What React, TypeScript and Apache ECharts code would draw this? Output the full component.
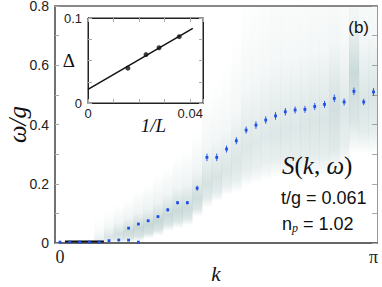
import React, { useEffect, useRef } from 'react';
import * as echarts from 'echarts';

// k = n * PI / 32  (L = 64)
const kDivisions = 32;
const upperN = [0, 1, 2, 3, 4, 5, 6, 7, 8, 9, 10, 11, 12, 13, 14, 15, 16, 17, 18, 19, 20, 21, 22, 23, 24, 25, 26, 27, 28, 29, 30, 31, 32];
const upperOmega = [0.003, 0.003, 0.003, 0.003, 0.003, 0.008, 0.010, 0.050, 0.064, 0.075, 0.089, 0.112, 0.136, 0.136, 0.185, 0.289, 0.289, 0.317, 0.345, 0.381, 0.398, 0.415, 0.429, 0.443, 0.449, 0.451, 0.461, 0.468, 0.488, 0.476, 0.512, 0.476, 0.510];
const upperErr = [0.001, 0.001, 0.001, 0.001, 0.001, 0.001, 0.001, 0.002, 0.002, 0.002, 0.002, 0.004, 0.004, 0.004, 0.007, 0.011, 0.011, 0.010, 0.010, 0.010, 0.011, 0.011, 0.011, 0.011, 0.010, 0.010, 0.010, 0.010, 0.011, 0.010, 0.011, 0.009, 0.011];
const lowerN = [7, 8];
const lowerOmega = [0.010, 0.003];
const lowerErr = [0.001, 0.001];

// S(k, w) intensity columns
const heatN = [0, 1, 2, 3, 4, 5, 6, 7, 8, 9, 10, 11, 12, 13, 14, 15, 16, 17, 18, 19, 20, 21, 22, 23, 24, 25, 26, 27, 28, 29, 30, 31, 32];
const heatLow = [0, 0, 0, 0, 0, 0, 0, 0, 0.005, 0.015, 0.025, 0.04, 0.05, 0.06, 0.09, 0.12, 0.14, 0.16, 0.17, 0.19, 0.2, 0.21, 0.22, 0.22, 0.22, 0.22, 0.22, 0.22, 0.23, 0.25, 0.3, 0.3, 0.3];
const heatPeak = [0.01, 0.01, 0.01, 0.01, 0.01, 0.02, 0.03, 0.04, 0.05, 0.06, 0.075, 0.095, 0.11, 0.12, 0.15, 0.2, 0.22, 0.25, 0.28, 0.32, 0.34, 0.36, 0.37, 0.38, 0.39, 0.4, 0.41, 0.42, 0.45, 0.45, 0.58, 0.48, 0.5];
const heatHigh = [0.05, 0.05, 0.05, 0.05, 0.09, 0.11, 0.13, 0.15, 0.18, 0.2, 0.23, 0.26, 0.3, 0.32, 0.38, 0.5, 0.55, 0.6, 0.7, 0.85, 0.9, 0.95, 1.0, 1.0, 1.0, 1.0, 1.0, 1.0, 1.0, 1.0, 1.0, 1.0, 1.0];
const heatAlpha = [0, 0, 0, 0, 0.12, 0.2, 0.24, 0.28, 0.3, 0.3, 0.3, 0.28, 0.28, 0.27, 0.26, 0.22, 0.21, 0.19, 0.19, 0.18, 0.17, 0.17, 0.18, 0.18, 0.18, 0.19, 0.2, 0.2, 0.24, 0.18, 0.28, 0.2, 0.2];

// dark ground-state strip
const groundK = [0.05, 0.44];
const groundOmega = [0.005, 0.005];

// inset: gap vs 1/L
const invL = [0.0156, 0.0227, 0.0278, 0.0357];
const gapValues = [0.041, 0.057, 0.065, 0.078];
const fitInvL = [0, 0.041];
const fitGap = [0.016, 0.0878];

const yMainLabels = [0, 0.2, 0.4, 0.6, 0.8];

const kOf = (n: number) => (n * Math.PI) / kDivisions;

export default function App() {
  const ref = useRef<HTMLDivElement>(null);
  useEffect(() => {
    if (!ref.current) return;
    const chart = echarts.init(ref.current, null, { renderer: 'svg' });
    const halfStep = Math.PI / kDivisions / 2;
    const base = '70,125,122';

    const heatData = heatN.map((n, i) => [kOf(n), heatLow[i], heatPeak[i], heatHigh[i], heatAlpha[i]]);
    const upperData = upperN.map((n, i) => [kOf(n), upperOmega[i], upperErr[i]]);
    const lowerData = lowerN.map((n, i) => [kOf(n), lowerOmega[i], lowerErr[i]]);

    const errRender = (params: any, api: any) => {
      const k = api.value(0);
      const w = api.value(1);
      const e = api.value(2);
      const c = api.coord([k, w]);
      const top = api.coord([k, w + e]);
      const bot = api.coord([k, w - e]);
      return {
        type: 'group',
        children: [
          { type: 'line', shape: { x1: c[0], y1: top[1] - 0.5, x2: c[0], y2: bot[1] + 0.5 }, style: { stroke: '#2a5cf0', lineWidth: 1 } },
          { type: 'rect', shape: { x: c[0] - 1.4, y: c[1] - 1.4, width: 2.8, height: 2.8 }, style: { fill: '#1d4fe8' } },
        ],
      };
    };

    const option: any = {
      animation: false,
      backgroundColor: '#fff',
      grid: [
        { left: 55, right: 5, top: 6, bottom: 44, show: false, outerBoundsMode: 'none', containLabel: false },
        { left: 88, top: 18, width: 115, height: 85, show: true, backgroundColor: '#fff', borderColor: '#222', borderWidth: 1, z: 10, outerBoundsMode: 'none', containLabel: false },
      ],
      xAxis: [
        {
          gridIndex: 0, type: 'value', min: -0.05, max: Math.PI + 0.035, position: 'bottom',
          axisLine: { show: true, onZero: false, lineStyle: { color: '#666', width: 2 } },
          axisTick: { show: false },
          splitLine: { show: false },
          axisLabel: {
            customValues: [0, Math.PI],
            formatter: (v: number) => (v < 1 ? '0' : 'π'),
            fontFamily: 'Liberation Serif', fontSize: 18, color: '#222', margin: 5,
          },
          name: 'k', nameLocation: 'middle', nameGap: 22, nameMoveOverlap: false,
          nameTextStyle: { fontFamily: 'Liberation Serif', fontStyle: 'italic', fontSize: 21, lineHeight: 18, color: '#111' },
        },
        {
          gridIndex: 0, type: 'value', min: -0.05, max: Math.PI + 0.035, position: 'top',
          axisLine: { show: true, onZero: false, lineStyle: { color: '#888', width: 2 } },
          axisTick: { show: false }, axisLabel: { show: false }, splitLine: { show: false },
        },
        {
          gridIndex: 1, type: 'value', min: 0, max: 0.045, interval: 0.01, position: 'bottom', z: 12,
          axisLine: { show: true, onZero: false, lineStyle: { color: '#222', width: 1 } },
          axisTick: { show: true, inside: true, length: 4, lineStyle: { color: '#aaa' } },
          splitLine: { show: false },
          axisLabel: {
            customValues: [0, 0.04],
            formatter: (v: number) => (v === 0 ? '0' : '0.04'),
            fontFamily: 'Liberation Sans', fontSize: 13, color: '#222', margin: 4,
          },
          name: '1/L', nameLocation: 'middle', nameGap: 13, nameMoveOverlap: false,
          nameTextStyle: { fontFamily: 'Liberation Serif', fontStyle: 'italic', fontSize: 19, color: '#111', padding: [0, 0, 0, 16] },
        },
        {
          gridIndex: 1, type: 'value', min: 0, max: 0.045, interval: 0.01, position: 'top', z: 12,
          axisLine: { show: true, onZero: false, lineStyle: { color: '#222', width: 1 } },
          axisTick: { show: true, inside: true, length: 4, lineStyle: { color: '#aaa' } },
          axisLabel: { show: false }, splitLine: { show: false },
        },
      ],
      yAxis: [
        {
          gridIndex: 0, type: 'value', min: 0, max: 0.8, interval: 0.1, position: 'left',
          axisLine: { show: true, onZero: false, lineStyle: { color: '#444', width: 1.5 } },
          axisTick: { show: true, inside: true, length: 4, lineStyle: { color: '#aaa' } },
          splitLine: { show: false },
          axisLabel: {
            customValues: yMainLabels,
            formatter: (v: number) => (v === 0 ? '0' : v.toFixed(1)),
            fontFamily: 'Liberation Sans', fontSize: 14, lineHeight: 14, color: '#222', margin: 6, padding: [6, 0, 0, 0],
          },
          name: 'ω/g', nameLocation: 'middle', nameGap: 28, nameRotate: 90, nameMoveOverlap: false,
          nameTextStyle: { fontFamily: 'Liberation Serif', fontStyle: 'italic', fontSize: 25, lineHeight: 20, color: '#111' },
        },
        {
          gridIndex: 0, type: 'value', min: 0, max: 0.8, interval: 0.1, position: 'right',
          axisLine: { show: true, onZero: false, lineStyle: { color: '#999', width: 1 } },
          axisTick: { show: true, inside: true, length: 5, lineStyle: { color: '#aaa' } },
          axisLabel: { show: false }, splitLine: { show: false },
        },
        {
          gridIndex: 1, type: 'value', min: 0, max: 0.1, interval: 0.025, position: 'left', z: 12,
          axisLine: { show: true, onZero: false, lineStyle: { color: '#222', width: 1 } },
          axisTick: { show: true, inside: true, length: 4, lineStyle: { color: '#aaa' } },
          splitLine: { show: false },
          axisLabel: {
            customValues: [0, 0.1],
            formatter: (v: number) => (v === 0 ? '0' : '0.1'),
            fontFamily: 'Liberation Sans', fontSize: 13, color: '#222', margin: 6,
          },
          name: 'Δ', nameLocation: 'middle', nameGap: 13, nameRotate: 0, nameMoveOverlap: false,
          nameTextStyle: { fontFamily: 'Liberation Serif', fontSize: 19, color: '#111' },
        },
        {
          gridIndex: 1, type: 'value', min: 0, max: 0.1, interval: 0.025, position: 'right', z: 12,
          axisLine: { show: true, onZero: false, lineStyle: { color: '#222', width: 1 } },
          axisTick: { show: true, inside: true, length: 4, lineStyle: { color: '#aaa' } },
          axisLabel: { show: false }, splitLine: { show: false },
        },
      ],
      series: [
        {
          type: 'custom', xAxisIndex: 0, yAxisIndex: 0, clip: true, z: 1,
          data: heatData,
          renderItem: (params: any, api: any) => {
            const k = api.value(0);
            const lo = api.value(1);
            const pk = api.value(2);
            const hi = api.value(3);
            const a = api.value(4);
            if (a <= 0) return null;
            const p1 = api.coord([k - halfStep, hi]);
            const p2 = api.coord([k + halfStep, lo]);
            const off = (hi - pk) / (hi - lo);
            return {
              type: 'rect',
              shape: { x: p1[0], y: p1[1], width: p2[0] - p1[0] + 0.3, height: p2[1] - p1[1] },
              style: {
                fill: new echarts.graphic.LinearGradient(0, 0, 0, 1, [
                  { offset: 0, color: `rgba(${base},0)` },
                  { offset: off * 0.6, color: `rgba(${base},${a * 0.3})` },
                  { offset: off, color: `rgba(${base},${a})` },
                  { offset: Math.min(1, off + (1 - off) * 0.6), color: `rgba(${base},${a * 0.7})` },
                  { offset: 1, color: `rgba(${base},0)` },
                ]),
              },
            };
          },
        },
        {
          type: 'line', xAxisIndex: 0, yAxisIndex: 0, z: 3, symbol: 'none',
          data: groundK.map((k, i) => [k, groundOmega[i]]),
          lineStyle: { color: '#111', width: 2 },
        },
        { type: 'custom', xAxisIndex: 0, yAxisIndex: 0, z: 4, data: upperData, renderItem: errRender },
        { type: 'custom', xAxisIndex: 0, yAxisIndex: 0, z: 4, data: lowerData, renderItem: errRender },
        {
          type: 'line', xAxisIndex: 2, yAxisIndex: 2, z: 13, symbol: 'none',
          data: fitInvL.map((x, i) => [x, fitGap[i]]),
          lineStyle: { color: '#111', width: 1.5 },
        },
        {
          type: 'scatter', xAxisIndex: 2, yAxisIndex: 2, z: 14, symbol: 'circle', symbolSize: 5,
          data: invL.map((x, i) => [x, gapValues[i]]),
          itemStyle: { color: '#111' },
        },
      ],
      graphic: [
        {
          type: 'text', x: 369, y: 27, z: 20,
          style: { text: '(b)', fill: '#111', font: '17px "Liberation Sans"', textAlign: 'right', textVerticalAlign: 'middle' },
        },
        {
          type: 'text', x: 282, y: 165, z: 20,
          style: {
            text: '{i|S}{n|(}{i|k}{n|, }{i|ω}{n|)}',
            textAlign: 'left', textVerticalAlign: 'middle',
            rich: {
              i: { fontFamily: 'Liberation Serif', fontStyle: 'italic', fontSize: 25, fill: '#111' },
              n: { fontFamily: 'Liberation Serif', fontSize: 25, fill: '#111' },
            },
          },
        },
        {
          type: 'text', x: 281, y: 198, z: 20,
          style: { text: 't/g = 0.061', fill: '#111', font: '18px "Liberation Sans"', textAlign: 'left', textVerticalAlign: 'middle' },
        },
        {
          type: 'text', x: 282, y: 224, z: 20,
          style: {
            text: '{a|n}{s|p}{a| = 1.02}',
            textAlign: 'left', textVerticalAlign: 'middle',
            rich: {
              a: { fontFamily: 'Liberation Sans', fontSize: 18, fill: '#111' },
              s: { fontFamily: 'Liberation Serif', fontStyle: 'italic', fontSize: 12, fill: '#111', padding: [8, 0, 0, 0] },
            },
          },
        },
      ],
    };
    chart.setOption(option);
    return () => chart.dispose();
  }, []);
  return <div ref={ref} style={{ position: 'fixed', left: 0, top: 0, width: 382, height: 287 }} />;
}
